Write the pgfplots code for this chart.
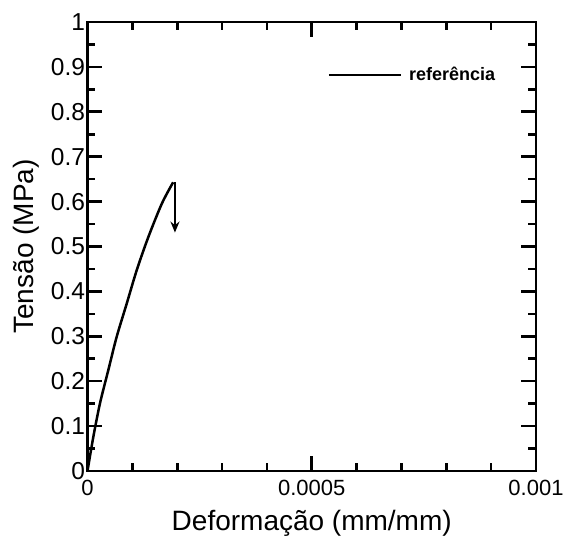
\documentclass[border=0pt]{standalone}
\usepackage{fontspec}
\setmainfont{Liberation Sans}
\usepackage{pgfplots}
\pgfplotsset{compat=1.18}
\usetikzlibrary{arrows.meta}
\begin{document}
\begin{tikzpicture}
\begin{axis}[
  scale only axis,
  width=448.5pt, height=449pt,
  xmin=0, xmax=0.001, ymin=0, ymax=1,
  xtick={0,0.0005,0.001},
  ytick={0,0.1,0.2,0.3,0.4,0.5,0.6,0.7,0.8,0.9,1},
  minor x tick num=4,
  minor y tick num=1,
  scaled x ticks=false,
  scaled y ticks=false,
  tick align=inside,
  tick pos=both,
  major tick length=15pt,
  minor tick length=8pt,
  every tick/.style={black, line width=2.6pt},
  axis line style={black, line width=2.8pt},
  /pgf/number format/assume math mode=true,
  xticklabel style={font=\fontsize{22}{25}\selectfont, /pgf/number format/fixed, /pgf/number format/precision=4, yshift=-6pt},
  yticklabel style={font=\fontsize{24.5}{27}\selectfont, /pgf/number format/fixed, /pgf/number format/precision=1, xshift=1pt},
  xlabel={Deformação (mm/mm)},
  ylabel={Tensão (MPa)},
  xlabel style={font=\fontsize{28}{31}\selectfont, at={(axis description cs:0.5,-0.116)}, anchor=center},
  ylabel style={font=\fontsize{28}{31}\selectfont, at={(axis description cs:-0.137,0.5)}, anchor=center, rotate=0},
  legend style={draw=none, fill=none, at={(rel axis cs:0.535,0.882)}, anchor=west, inner sep=0pt, font=\bfseries\fontsize{18}{21}\selectfont},
  legend cell align=left,
  legend image code/.code={\draw[#1] (0pt,0pt) -- (72pt,0pt); \path (77pt,0pt);},
]
\addplot[black, line width=2.5pt, smooth] coordinates {
 (0,0) (0.000013,0.076) (0.0000279,0.151) (0.0000465,0.225) (0.0000651,0.299)
 (0.0000875,0.373) (0.00011,0.448) (0.000136,0.522) (0.000166,0.596) (0.000191,0.643)
};
\addlegendentry{referência}
\addplot[black, line width=2.2pt, -{Stealth[length=11pt,width=9pt]}, forget plot] coordinates {
 (0.000195,0.643) (0.000195,0.531)
};
\end{axis}
\pgfresetboundingbox
\path (-87.5pt,-66pt) rectangle (476.5pt,471pt);
\end{tikzpicture}
\end{document}
